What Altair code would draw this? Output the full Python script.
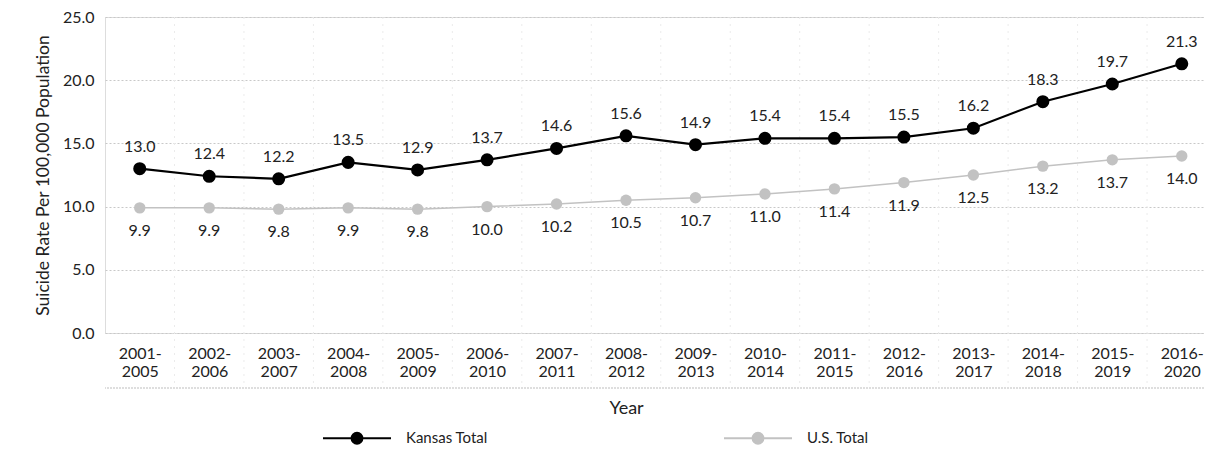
import json
import altair as alt
import pandas as pd

# ---- data ----
periods = [["2001-", "2005"], ["2002-", "2006"], ["2003-", "2007"], ["2004-", "2008"],
           ["2005-", "2009"], ["2006-", "2010"], ["2007-", "2011"], ["2008-", "2012"],
           ["2009-", "2013"], ["2010-", "2014"], ["2011-", "2015"], ["2012-", "2016"],
           ["2013-", "2017"], ["2014-", "2018"], ["2015-", "2019"], ["2016-", "2020"]]
kansas_total = [13.0, 12.4, 12.2, 13.5, 12.9, 13.7, 14.6, 15.6, 14.9, 15.4, 15.4, 15.5,
                16.2, 18.3, 19.7, 21.3]
us_total = [9.9, 9.9, 9.8, 9.9, 9.8, 10.0, 10.2, 10.5, 10.7, 11.0, 11.4, 11.9,
            12.5, 13.2, 13.7, 14.0]
series_names = ["Kansas Total", "U.S. Total"]
y_ticks = [0, 5, 10, 15, 20, 25]

rows = []
for i, (p, k, u) in enumerate(zip(periods, kansas_total, us_total)):
    rows.append({"idx": i, "period": "".join(p), "series": series_names[0], "value": k})
    rows.append({"idx": i, "period": "".join(p), "series": series_names[1], "value": u})
df = pd.DataFrame(rows)

n = len(periods)
bounds_df = pd.DataFrame({"b": [i - 0.5 for i in range(1, n)]})
base_rule_df = pd.DataFrame({"k": [0]})

FONT = "Lato"
W, H = 1099, 316
TXT = "#222222"

label_expr = json.dumps(periods) + "[datum.value]"
x_scale = alt.Scale(domain=[-0.5, 15.32], nice=False, zero=False)

x_enc = alt.X(
    "idx:Q",
    scale=x_scale,
    axis=alt.Axis(values=list(range(n)), labelExpr=label_expr, title="Year",
                  grid=False, domain=False, ticks=False, labelPadding=12,
                  labelFontSize=16, labelLineHeight=18, labelColor=TXT,
                  labelFont=FONT, titleFont=FONT, titleFontSize=18,
                  titleFontWeight="normal", titleColor=TXT,
                  titleX=521, titleY=75, titleBaseline="middle", titleAnchor="middle"),
)
y_enc = alt.Y(
    "value:Q",
    scale=alt.Scale(domain=[0, 25], nice=False),
    axis=alt.Axis(values=y_ticks, format=".1f", title="Suicide Rate Per 100,000 Population",
                  domain=False, ticks=False, labelPadding=11, labelFontSize=16,
                  labelColor=TXT, labelFont=FONT, titleFont=FONT, titleFontSize=17.5,
                  titleFontWeight="normal", titleColor=TXT, titlePadding=10,
                  gridColor="#c8c8c8", gridDash=[2, 2], gridWidth=1),
)

sym_path = ("M-1,0H-0.16M0.16,0H1M0.16,0A0.16,0.16,0,1,1,-0.16,0"
            "A0.16,0.16,0,1,1,0.16,0Z")
color_enc = alt.Color(
    "series:N",
    scale=alt.Scale(domain=series_names, range=["#000000", "#c2c2c2"]),
    legend=alt.Legend(orient="none", legendX=217, legendY=386, direction="horizontal",
                      title=None, symbolType=sym_path, symbolSize=4624,
                      symbolStrokeWidth=2, labelFontSize=15, labelFont=FONT,
                      labelColor=TXT, labelOffset=14, columnPadding=232),
)

vgrid = alt.Chart(bounds_df).mark_rule(color="#ebebeb", strokeDash=[2, 5], strokeWidth=1).encode(
    x=alt.X("b:Q", scale=x_scale),
    y=alt.value(0), y2=alt.value(H + 55),
)
base_rule = alt.Chart(base_rule_df).mark_rule(color="#bdbdbd", strokeDash=[2, 1], strokeWidth=1).encode(
    y=alt.value(H + 55)
)

base = alt.Chart(df)
k_only = base.transform_filter(alt.datum.series == series_names[0])
u_only = base.transform_filter(alt.datum.series == series_names[1])

u_line = u_only.mark_line(strokeWidth=1.5).encode(x=x_enc, y=y_enc, color=color_enc)
k_line = k_only.mark_line(strokeWidth=2.2).encode(x=x_enc, y=y_enc, color=color_enc)
u_pts = u_only.mark_circle(opacity=1).encode(x=x_enc, y=y_enc, color=color_enc,
                                             size=alt.value(130))
k_pts = k_only.mark_circle(opacity=1).encode(x=x_enc, y=y_enc, color=color_enc,
                                             size=alt.value(170))
k_text = k_only.mark_text(dy=-22, fontSize=16, font=FONT, color=TXT).encode(
    x=x_enc, y=y_enc, text=alt.Text("value:Q", format=".1f"))
u_text = u_only.mark_text(dy=23, fontSize=16, font=FONT, color=TXT).encode(
    x=x_enc, y=y_enc, text=alt.Text("value:Q", format=".1f"))

chart = alt.layer(vgrid, base_rule, u_line, k_line, u_pts, k_pts, k_text, u_text).properties(
    width=W, height=H,
    autosize=alt.AutoSizeParams(type="none"),
    padding={"left": 97, "top": 9, "right": 0, "bottom": 114},
).configure_view(stroke=None).configure(font=FONT)

chart.save("out.html", embed_options={"renderer": "svg", "actions": False})
